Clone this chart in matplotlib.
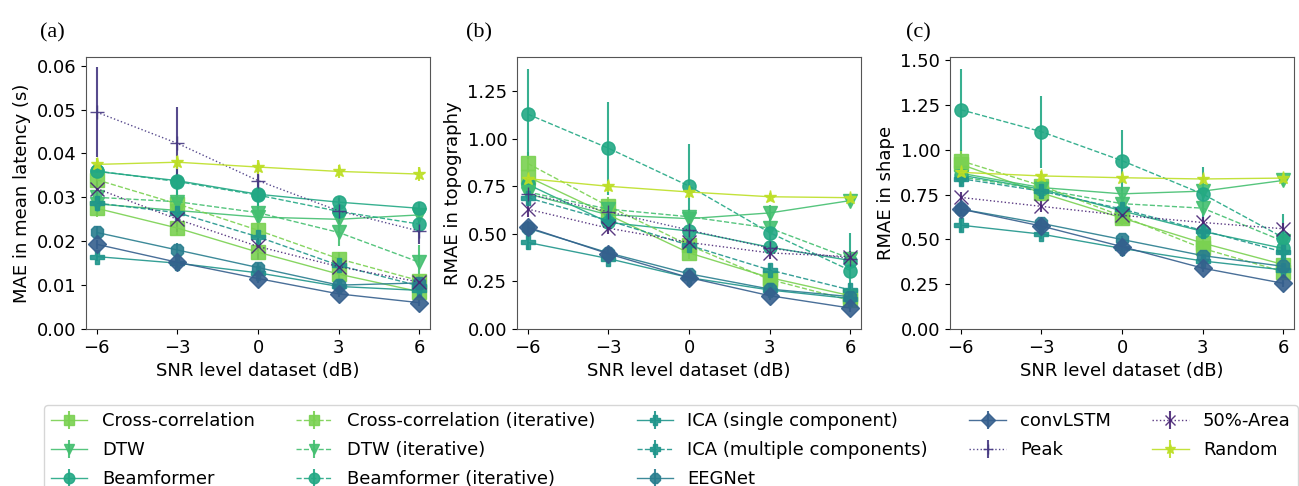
import numpy as np
import matplotlib
matplotlib.use("Agg")
import matplotlib.pyplot as plt
from matplotlib import cm

snr = [-6, -3, 0, 3, 6]

methods = ["Cross-correlation", "DTW", "Beamformer",
           "Cross-correlation (iterative)", "DTW (iterative)", "Beamformer (iterative)",
           "ICA (single component)", "ICA (multiple components)", "EEGNet",
           "convLSTM", "Peak", "50%-Area", "Random"]

# (a) MAE in mean latency
mae_mean = {
    "Cross-correlation": [0.0275, 0.0230, 0.0175, 0.0125, 0.0085],
    "DTW": [0.0285, 0.0270, 0.0255, 0.0250, 0.0260],
    "Beamformer": [0.0359, 0.0338, 0.0307, 0.0289, 0.0275],
    "Cross-correlation (iterative)": [0.0340, 0.0285, 0.0225, 0.0160, 0.0110],
    "DTW (iterative)": [0.0300, 0.0290, 0.0265, 0.0220, 0.0152],
    "Beamformer (iterative)": [0.0360, 0.0336, 0.0305, 0.0268, 0.0239],
    "ICA (single component)": [0.0165, 0.0150, 0.0128, 0.0097, 0.0088],
    "ICA (multiple components)": [0.0287, 0.0265, 0.0210, 0.0145, 0.0098],
    "EEGNet": [0.0220, 0.0180, 0.0140, 0.0100, 0.0105],
    "convLSTM": [0.0193, 0.0152, 0.0115, 0.0080, 0.0060],
    "Peak": [0.0494, 0.0423, 0.0338, 0.0269, 0.0223],
    "50%-Area": [0.0320, 0.0250, 0.0188, 0.0142, 0.0107],
    "Random": [0.0375, 0.0380, 0.0369, 0.0359, 0.0353],
}
mae_err = {
    "Cross-correlation": [0.002, 0.0015, 0.0015, 0.0015, 0.001],
    "DTW": [0.002, 0.002, 0.0015, 0.002, 0.0015],
    "Beamformer": [0.002, 0.0015, 0.0015, 0.0015, 0.0015],
    "Cross-correlation (iterative)": [0.003, 0.002, 0.002, 0.0015, 0.0015],
    "DTW (iterative)": [0.003, 0.003, 0.0025, 0.003, 0.004],
    "Beamformer (iterative)": [0.003, 0.004, 0.003, 0.002, 0.002],
    "ICA (single component)": [0.001, 0.001, 0.001, 0.001, 0.001],
    "ICA (multiple components)": [0.003, 0.003, 0.005, 0.003, 0.002],
    "EEGNet": [0.0015, 0.0015, 0.001, 0.001, 0.001],
    "convLSTM": [0.001, 0.001, 0.001, 0.0008, 0.0008],
    "Peak": [0.0103, 0.0082, 0.004, 0.003, 0.003],
    "50%-Area": [0.003, 0.003, 0.003, 0.002, 0.0015],
    "Random": [0.0015, 0.0015, 0.0015, 0.0015, 0.0015],
}

# (b) RMAE in topography
topo_mean = {
    "Cross-correlation": [0.80, 0.60, 0.40, 0.27, 0.175],
    "DTW": [0.71, 0.60, 0.58, 0.61, 0.675],
    "Beamformer": [0.76, 0.56, 0.515, 0.43, 0.36],
    "Cross-correlation (iterative)": [0.87, 0.645, 0.44, 0.26, 0.15],
    "DTW (iterative)": [0.72, 0.63, 0.59, 0.53, 0.37],
    "Beamformer (iterative)": [1.129, 0.95, 0.751, 0.506, 0.307],
    "ICA (single component)": [0.455, 0.37, 0.27, 0.205, 0.16],
    "ICA (multiple components)": [0.69, 0.57, 0.44, 0.31, 0.205],
    "EEGNet": [0.53, 0.40, 0.29, 0.21, 0.17],
    "convLSTM": [0.535, 0.395, 0.27, 0.175, 0.11],
    "Peak": [0.71, 0.616, 0.52, 0.425, 0.37],
    "50%-Area": [0.63, 0.53, 0.455, 0.40, 0.38],
    "Random": [0.79, 0.75, 0.72, 0.695, 0.69],
}
topo_err = {
    "Cross-correlation": [0.05, 0.04, 0.03, 0.03, 0.02],
    "DTW": [0.04, 0.04, 0.04, 0.04, 0.03],
    "Beamformer": [0.05, 0.04, 0.04, 0.03, 0.03],
    "Cross-correlation (iterative)": [0.06, 0.05, 0.04, 0.03, 0.02],
    "DTW (iterative)": [0.04, 0.04, 0.04, 0.04, 0.04],
    "Beamformer (iterative)": [0.237, 0.245, 0.22, 0.08, 0.2],
    "ICA (single component)": [0.04, 0.03, 0.02, 0.02, 0.02],
    "ICA (multiple components)": [0.04, 0.04, 0.04, 0.03, 0.03],
    "EEGNet": [0.03, 0.03, 0.02, 0.02, 0.02],
    "convLSTM": [0.03, 0.03, 0.02, 0.02, 0.02],
    "Peak": [0.04, 0.04, 0.04, 0.03, 0.03],
    "50%-Area": [0.04, 0.03, 0.03, 0.03, 0.03],
    "Random": [0.03, 0.03, 0.03, 0.02, 0.02],
}

# (c) RMAE in shape (no Peak)
shape_mean = {
    "Cross-correlation": [0.92, 0.76, 0.62, 0.48, 0.36],
    "DTW": [0.87, 0.79, 0.755, 0.77, 0.83],
    "Beamformer": [0.86, 0.78, 0.66, 0.545, 0.45],
    "Cross-correlation (iterative)": [0.94, 0.80, 0.63, 0.45, 0.32],
    "DTW (iterative)": [0.85, 0.78, 0.70, 0.675, 0.49],
    "Beamformer (iterative)": [1.225, 1.102, 0.94, 0.754, 0.51],
    "ICA (single component)": [0.58, 0.53, 0.45, 0.38, 0.33],
    "ICA (multiple components)": [0.84, 0.77, 0.67, 0.55, 0.43],
    "EEGNet": [0.67, 0.59, 0.50, 0.41, 0.35],
    "convLSTM": [0.67, 0.575, 0.46, 0.34, 0.255],
    "50%-Area": [0.735, 0.685, 0.635, 0.595, 0.56],
    "Random": [0.875, 0.855, 0.845, 0.838, 0.843],
}
shape_err = {
    "Cross-correlation": [0.08, 0.05, 0.04, 0.04, 0.03],
    "DTW": [0.04, 0.04, 0.04, 0.04, 0.03],
    "Beamformer": [0.05, 0.04, 0.04, 0.04, 0.04],
    "Cross-correlation (iterative)": [0.06, 0.05, 0.04, 0.03, 0.03],
    "DTW (iterative)": [0.04, 0.04, 0.04, 0.04, 0.04],
    "Beamformer (iterative)": [0.23, 0.2, 0.17, 0.15, 0.13],
    "ICA (single component)": [0.04, 0.03, 0.02, 0.02, 0.02],
    "ICA (multiple components)": [0.04, 0.04, 0.04, 0.03, 0.03],
    "EEGNet": [0.03, 0.03, 0.02, 0.02, 0.02],
    "convLSTM": [0.03, 0.03, 0.02, 0.02, 0.02],
    "50%-Area": [0.03, 0.03, 0.03, 0.03, 0.03],
    "Random": [0.03, 0.03, 0.02, 0.02, 0.02],
}

# style per method: (viridis position, marker, linestyle)
style = {
    "Cross-correlation": (0.80, "s", "-"),
    "DTW": (0.70, "v", "-"),
    "Beamformer": (0.60, "o", "-"),
    "Cross-correlation (iterative)": (0.80, "s", "--"),
    "DTW (iterative)": (0.70, "v", "--"),
    "Beamformer (iterative)": (0.60, "o", "--"),
    "ICA (single component)": (0.52, "P", "-"),
    "ICA (multiple components)": (0.52, "P", "--"),
    "EEGNet": (0.42, "8", "-"),
    "convLSTM": (0.30, "D", "-"),
    "Peak": (0.16, "+", ":"),
    "50%-Area": (0.10, "x", ":"),
    "Random": (0.90, "*", "-"),
}

plt.rcParams["font.size"] = 13

fig = plt.figure(figsize=(12.99, 4.86), dpi=100)
lefts = [0.0662, 0.398, 0.7313]
axes = [fig.add_axes([l, 0.323, 0.265, 0.560]) for l in lefts]

panels = [
    (mae_mean, mae_err, "MAE in mean latency (s)", 0.062, [0, 0.01, 0.02, 0.03, 0.04, 0.05, 0.06]),
    (topo_mean, topo_err, "RMAE in topography", 1.43, [0, 0.25, 0.5, 0.75, 1.0, 1.25]),
    (shape_mean, shape_err, "RMAE in shape", 1.52, [0, 0.25, 0.5, 0.75, 1.0, 1.25, 1.5]),
]

handles = {}
for ax, (means, errs, ylabel, ymax, yticks) in zip(axes, panels):
    for m in methods:
        if m not in means:
            continue
        pos, mk, ls = style[m]
        c = cm.viridis(pos)
        h = ax.errorbar(snr, means[m], yerr=errs[m], color=c, marker=mk, linestyle=ls,
                        linewidth=1.0, markersize=9.5, elinewidth=1.5, capsize=0,
                        alpha=0.9, label=m)
        handles[m] = h
    ax.set_xticks(snr)
    ax.set_xticklabels(["\u22126", "\u22123", "0", "3", "6"])
    ax.set_xlim(-6.4, 6.4)
    ax.set_ylim(0, ymax)
    ax.set_yticks(yticks)
    ax.set_yticklabels(["{:.2f}".format(v) for v in yticks])
    ax.set_xlabel("SNR level dataset (dB)")
    ax.set_ylabel(ylabel)
    for s in ax.spines.values():
        s.set_color("#555555")

for txt, x in zip(["(a)", "(b)", "(c)"], [0.040, 0.369, 0.707]):
    fig.text(x, 0.932, txt, family="Liberation Serif", fontsize=16, ha="center", va="center")

fig.legend([handles[m] for m in methods], methods, loc="upper left",
           bbox_to_anchor=(0.027, 0.185), ncol=5, fontsize=13, frameon=True,
           handlelength=2.0, columnspacing=2.3, labelspacing=0.6, markerscale=0.8)

fig.savefig("out.png", dpi=100)
